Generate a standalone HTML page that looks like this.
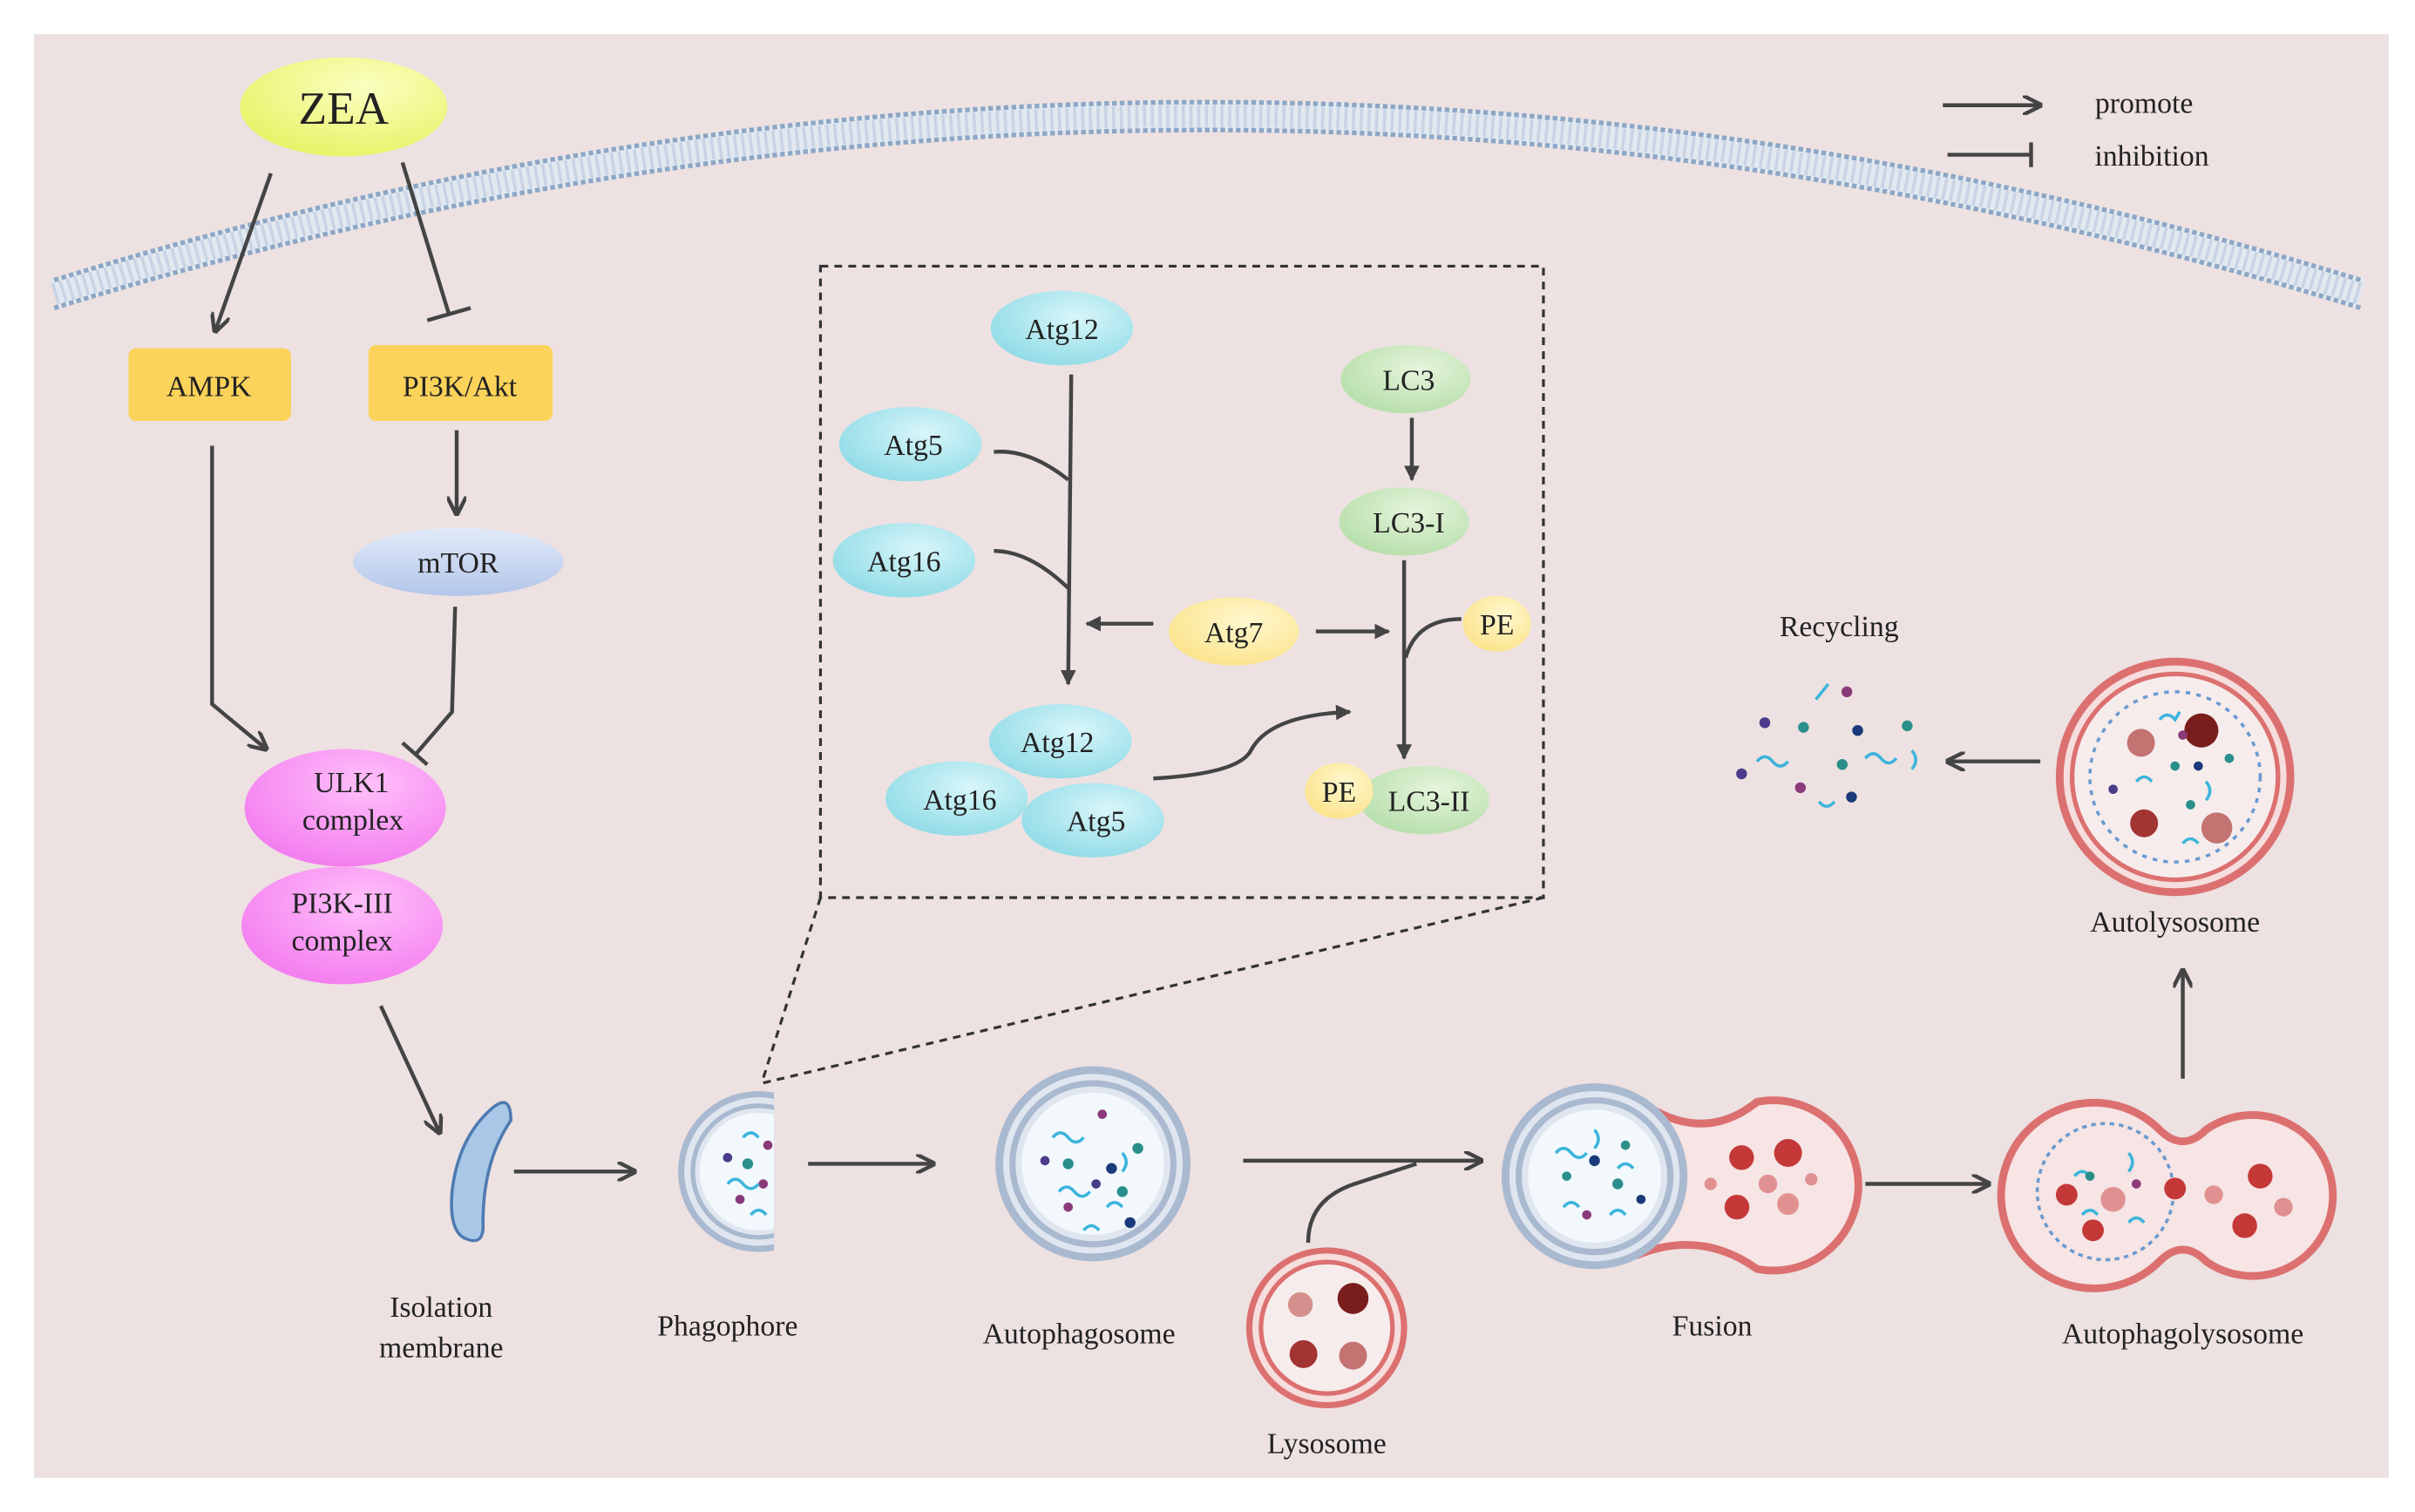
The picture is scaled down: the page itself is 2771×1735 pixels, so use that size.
<!DOCTYPE html>
<html><head><meta charset="utf-8"><style>html,body{margin:0;padding:0;background:#fff}svg{display:block}text{font-family:"Liberation Serif",serif;fill:#222;text-anchor:middle}</style></head><body>
<svg width="2771" height="1735" viewBox="0 0 1560 977" preserveAspectRatio="none" xmlns="http://www.w3.org/2000/svg">
<defs>
<marker id="a" viewBox="0 0 10 10" refX="9" refY="5" markerWidth="5" markerHeight="5" orient="auto"><path d="M0,0 L10,5 L0,10" fill="none" stroke="#444" stroke-width="2"/></marker>
<marker id="b" viewBox="0 0 10 10" refX="9" refY="5" markerWidth="4" markerHeight="4" orient="auto"><path d="M0,0 L10,5 L0,10 Z" fill="#444"/></marker>
<radialGradient id="cy" cx="0.6" cy="0.35" r="0.7"><stop offset="0" stop-color="#d8f6fa"/><stop offset="1" stop-color="#8fdbe6"/></radialGradient>
<radialGradient id="gr" cx="0.6" cy="0.35" r="0.7"><stop offset="0" stop-color="#e6f5dc"/><stop offset="1" stop-color="#b6deaa"/></radialGradient>
<radialGradient id="ye" cx="0.6" cy="0.35" r="0.7"><stop offset="0" stop-color="#fff8d0"/><stop offset="1" stop-color="#fbe38a"/></radialGradient>
<radialGradient id="pk" cx="0.6" cy="0.3" r="0.7"><stop offset="0" stop-color="#ffc0fa"/><stop offset="1" stop-color="#f47ff0"/></radialGradient>
<radialGradient id="zea" cx="0.6" cy="0.3" r="0.7"><stop offset="0" stop-color="#fbffc0"/><stop offset="1" stop-color="#e8f36a"/></radialGradient>
<linearGradient id="mt" x1="0" y1="0" x2="0" y2="1"><stop offset="0" stop-color="#e2eaf8"/><stop offset="1" stop-color="#b3c6ea"/></linearGradient>
<clipPath id="half"><rect x="400" y="680" width="100" height="160"/></clipPath>
</defs>
<rect x="0" y="0" width="1560" height="977" fill="#fff"/>
<rect x="22" y="22" width="1521" height="933" fill="#ede1e1"/>
<!-- membrane -->
<path d="M35,190 Q780,-40 1525,190" fill="none" stroke="#e2e8f0" stroke-width="20"/>
<path d="M35,190 Q780,-40 1525,190" fill="none" stroke="#c8d4e4" stroke-width="14" stroke-dasharray="2 3"/>
<path d="M35,181 Q780,-49 1525,181" fill="none" stroke="#8ea6c4" stroke-width="3" stroke-dasharray="3 2"/>
<path d="M35,199 Q780,-31 1525,199" fill="none" stroke="#8ea6c4" stroke-width="3" stroke-dasharray="3 2"/>
<!-- legend -->
<line x1="1255" y1="68" x2="1318" y2="68" stroke="#444" stroke-width="2.5" marker-end="url(#a)"/>
<text x="1385" y="73" font-size="19">promote</text>
<line x1="1258" y1="100" x2="1312" y2="100" stroke="#444" stroke-width="2.5"/><line x1="1312" y1="92" x2="1312" y2="108" stroke="#444" stroke-width="2.5"/>
<text x="1390" y="107" font-size="19">inhibition</text>
<!-- left pathway -->
<ellipse cx="222" cy="69" rx="67" ry="32" fill="url(#zea)"/>
<text x="222" y="80" font-size="30">ZEA</text>
<line x1="175" y1="112" x2="139" y2="214" stroke="#444" stroke-width="2.5" marker-end="url(#a)"/>
<line x1="260" y1="105" x2="290" y2="203" stroke="#444" stroke-width="2.5"/><line x1="276" y1="207" x2="304" y2="199" stroke="#444" stroke-width="2.5"/>
<rect x="83" y="225" width="105" height="47" rx="5" fill="#fcd35a"/>
<text x="135" y="256" font-size="19">AMPK</text>
<rect x="238" y="223" width="119" height="49" rx="5" fill="#fcd35a"/>
<text x="297" y="256" font-size="19">PI3K/Akt</text>
<line x1="295" y1="278" x2="295" y2="332" stroke="#444" stroke-width="2.5" marker-end="url(#a)"/>
<ellipse cx="296" cy="363" rx="68" ry="22" fill="url(#mt)"/>
<text x="296" y="370" font-size="19">mTOR</text>
<polyline points="137,288 137,455 172,484" fill="none" stroke="#444" stroke-width="2.5" marker-end="url(#a)"/>
<polyline points="294,392 292,460 268,488" fill="none" stroke="#444" stroke-width="2.5"/><line x1="260" y1="480" x2="276" y2="494" stroke="#444" stroke-width="2.5"/>
<ellipse cx="223" cy="522" rx="65" ry="38" fill="url(#pk)"/>
<text x="227" y="512" font-size="19">ULK1</text><text x="228" y="536" font-size="19">complex</text>
<ellipse cx="221" cy="598" rx="65" ry="38" fill="url(#pk)"/>
<text x="221" y="590" font-size="19">PI3K-III</text><text x="221" y="614" font-size="19">complex</text>
<line x1="246" y1="650" x2="284" y2="732" stroke="#444" stroke-width="2.5" marker-end="url(#a)"/>
<!-- isolation membrane -->
<path d="M318,716 Q330,706 330,724 Q312,750 312,790 Q313,806 300,800 Q290,795 292,770 Q296,735 318,716 Z" fill="#a9c8e8" stroke="#4d7bb0" stroke-width="2"/>
<text x="285" y="851" font-size="19">Isolation</text><text x="285" y="877" font-size="19">membrane</text>
<line x1="332" y1="757" x2="410" y2="757" stroke="#444" stroke-width="2.5" marker-end="url(#a)"/>
<!-- phagophore -->
<g clip-path="url(#half)">
<circle cx="490" cy="757" r="52" fill="#a9b9d0"/><circle cx="490" cy="757" r="48" fill="#dfe6f0"/><circle cx="490" cy="757" r="44" fill="#a9b9d0"/><circle cx="490" cy="757" r="41" fill="#dfe6f0"/><circle cx="490" cy="757" r="38" fill="#f2f8fc"/>
<circle cx="470" cy="748" r="3" fill="#4a3c8a"/><circle cx="483" cy="752" r="3.5" fill="#2a8f8a"/><circle cx="493" cy="765" r="3" fill="#8a3a7a"/><circle cx="478" cy="775" r="3" fill="#8a3a7a"/><circle cx="496" cy="740" r="3" fill="#8a3a7a"/>
<path d="M470,765 q5,-6 10,0 t10,0" fill="none" stroke="#3cb4dc" stroke-width="2"/><path d="M480,735 q5,-6 10,0" fill="none" stroke="#3cb4dc" stroke-width="2"/><path d="M485,785 q5,-6 10,0" fill="none" stroke="#3cb4dc" stroke-width="2"/>
</g>
<text x="470" y="863" font-size="19">Phagophore</text>
<line x1="522" y1="752" x2="603" y2="752" stroke="#444" stroke-width="2.5" marker-end="url(#a)"/>
<!-- autophagosome -->
<circle cx="706" cy="752" r="63" fill="#a9b9d0"/><circle cx="706" cy="752" r="58" fill="#dfe6f0"/><circle cx="706" cy="752" r="54" fill="#a9b9d0"/><circle cx="706" cy="752" r="50" fill="#dfe6f0"/><circle cx="706" cy="752" r="46" fill="#f2f8fc"/>
<g fill="none" stroke="#3cb4dc" stroke-width="2"><path d="M680,735 q5,-6 10,0 t10,0"/><path d="M684,770 q5,-6 10,0 t10,0"/><path d="M715,780 q5,-6 10,0"/><path d="M725,745 q5,6 0,12"/><path d="M700,795 q5,-6 10,0"/></g>
<g><circle cx="675" cy="750" r="3" fill="#4a3c8a"/><circle cx="690" cy="752" r="3.5" fill="#2a8f8a"/><circle cx="712" cy="720" r="3" fill="#8a3a7a"/><circle cx="718" cy="755" r="3.5" fill="#1a3a7a"/><circle cx="735" cy="742" r="3.5" fill="#2a8f8a"/><circle cx="708" cy="765" r="3" fill="#4a3c8a"/><circle cx="725" cy="770" r="3.5" fill="#2a8f8a"/><circle cx="730" cy="790" r="3.5" fill="#1a3a7a"/><circle cx="690" cy="780" r="3" fill="#8a3a7a"/></g>
<text x="697" y="868" font-size="19">Autophagosome</text>
<line x1="803" y1="750" x2="957" y2="750" stroke="#444" stroke-width="2.5" marker-end="url(#a)"/>
<path d="M845,803 Q845,775 875,765 L915,752" fill="none" stroke="#444" stroke-width="2.5"/>
<!-- lysosome -->
<circle cx="857" cy="858" r="52" fill="#dc7070"/><circle cx="857" cy="858" r="48" fill="#f6dede"/><circle cx="857" cy="858" r="44" fill="#dc7070"/><circle cx="857" cy="858" r="41" fill="#f7ecec"/>
<circle cx="840" cy="843" r="8" fill="#d4908c"/><circle cx="874" cy="839" r="10" fill="#7a1d1d"/><circle cx="842" cy="875" r="9" fill="#a33434"/><circle cx="874" cy="876" r="9" fill="#c47272"/>
<text x="857" y="939" font-size="19">Lysosome</text>
<!-- fusion -->
<path d="M1060,712 Q1100,740 1135,712 A55,55 0 1,1 1135,820 Q1100,795 1060,810 Z" fill="#f7e4e4" stroke="#dc7070" stroke-width="5"/>
<circle cx="1030" cy="760" r="60" fill="#a9b9d0"/><circle cx="1030" cy="760" r="55" fill="#dfe6f0"/><circle cx="1030" cy="760" r="51" fill="#a9b9d0"/><circle cx="1030" cy="760" r="47" fill="#dfe6f0"/><circle cx="1030" cy="760" r="43" fill="#f2f8fc"/>
<g fill="none" stroke="#3cb4dc" stroke-width="2"><path d="M1005,745 q5,-6 10,0 t10,0"/><path d="M1010,780 q5,-6 10,0"/><path d="M1040,785 q5,-6 10,0"/><path d="M1030,730 q5,6 0,12"/><path d="M1045,755 q5,-6 10,0"/></g>
<circle cx="1012" cy="760" r="3" fill="#2a8f8a"/><circle cx="1030" cy="750" r="3.5" fill="#1a3a7a"/><circle cx="1045" cy="765" r="3.5" fill="#2a8f8a"/><circle cx="1025" cy="785" r="3" fill="#8a3a7a"/><circle cx="1050" cy="740" r="3" fill="#2a8f8a"/><circle cx="1060" cy="775" r="3" fill="#1a3a7a"/>
<circle cx="1125" cy="748" r="8" fill="#c43838"/><circle cx="1155" cy="745" r="9" fill="#c43838"/><circle cx="1142" cy="765" r="6" fill="#e09090"/><circle cx="1122" cy="780" r="8" fill="#c43838"/><circle cx="1155" cy="778" r="7" fill="#e09090"/><circle cx="1105" cy="765" r="4" fill="#e09090"/><circle cx="1170" cy="762" r="4" fill="#e09090"/>
<text x="1106" y="863" font-size="19">Fusion</text>
<line x1="1205" y1="765" x2="1285" y2="765" stroke="#444" stroke-width="2.5" marker-end="url(#a)"/>
<!-- autophagolysosome -->
<path d="M1395,730 Q1410,745 1425,730 A52,52 0 1,1 1425,815 Q1410,800 1395,815 A60,60 0 1,1 1395,730 Z" fill="#f7e4e4" stroke="#dc7070" stroke-width="5"/>
<circle cx="1360" cy="770" r="44" fill="none" stroke="#6a9ad0" stroke-width="2" stroke-dasharray="3 3"/>
<g fill="none" stroke="#3cb4dc" stroke-width="2"><path d="M1340,760 q5,-6 10,0"/><path d="M1345,785 q5,-6 10,0"/><path d="M1375,745 q5,6 0,12"/><path d="M1375,790 q5,-6 10,0"/></g>
<circle cx="1335" cy="772" r="7" fill="#c43838"/><circle cx="1365" cy="775" r="8" fill="#e09090"/><circle cx="1352" cy="795" r="7" fill="#c43838"/><circle cx="1350" cy="760" r="3" fill="#2a8f8a"/><circle cx="1380" cy="765" r="3" fill="#8a3a7a"/>
<circle cx="1405" cy="768" r="7" fill="#c43838"/><circle cx="1430" cy="772" r="6" fill="#e09090"/><circle cx="1460" cy="760" r="8" fill="#c43838"/><circle cx="1450" cy="792" r="8" fill="#c43838"/><circle cx="1475" cy="780" r="6" fill="#e09090"/>
<text x="1410" y="868" font-size="19">Autophagolysosome</text>
<line x1="1410" y1="697" x2="1410" y2="627" stroke="#444" stroke-width="2.5" marker-end="url(#a)"/>
<!-- autolysosome -->
<circle cx="1405" cy="502" r="77" fill="#dc7070"/><circle cx="1405" cy="502" r="72" fill="#f6dede"/><circle cx="1405" cy="502" r="68" fill="#dc7070"/><circle cx="1405" cy="502" r="65" fill="#f7ecec"/>
<circle cx="1405" cy="502" r="55" fill="none" stroke="#6a9ad0" stroke-width="2" stroke-dasharray="3 4"/>
<circle cx="1422" cy="472" r="11" fill="#7a1d1d"/><circle cx="1383" cy="480" r="9" fill="#c47272"/><circle cx="1385" cy="532" r="9" fill="#a33434"/><circle cx="1432" cy="535" r="10" fill="#c47272"/>
<g fill="none" stroke="#3cb4dc" stroke-width="2"><path d="M1395,465 q5,-6 10,0 l3,-5"/><path d="M1380,505 q5,-6 10,0"/><path d="M1410,545 q5,-6 10,0"/><path d="M1425,505 q5,6 0,12"/></g>
<circle cx="1405" cy="495" r="3" fill="#2a8f8a"/><circle cx="1420" cy="495" r="3" fill="#1a3a7a"/><circle cx="1415" cy="520" r="3" fill="#2a8f8a"/><circle cx="1440" cy="490" r="3" fill="#2a8f8a"/><circle cx="1365" cy="510" r="3" fill="#4a3c8a"/><circle cx="1410" cy="475" r="3" fill="#8a3a7a"/>
<text x="1405" y="602" font-size="19">Autolysosome</text>
<line x1="1318" y1="492" x2="1258" y2="492" stroke="#444" stroke-width="2.5" marker-end="url(#a)"/>
<!-- recycling -->
<text x="1188" y="411" font-size="19">Recycling</text>
<g fill="none" stroke="#3cb4dc" stroke-width="2"><path d="M1173,452 l8,-10"/><path d="M1135,492 q5,-6 10,0 t10,0"/><path d="M1205,490 q5,-6 10,0 t10,0"/><path d="M1235,485 q5,6 0,12"/><path d="M1175,518 q5,6 10,0"/></g>
<circle cx="1193" cy="447" r="3.5" fill="#8a3a7a"/><circle cx="1140" cy="467" r="3.5" fill="#4a3c8a"/><circle cx="1165" cy="470" r="3.5" fill="#2a8f8a"/><circle cx="1200" cy="472" r="3.5" fill="#1a3a7a"/><circle cx="1232" cy="469" r="3.5" fill="#2a8f8a"/><circle cx="1190" cy="494" r="3.5" fill="#2a8f8a"/><circle cx="1125" cy="500" r="3.5" fill="#4a3c8a"/><circle cx="1163" cy="509" r="3.5" fill="#8a3a7a"/><circle cx="1196" cy="515" r="3.5" fill="#1a3a7a"/>
<!-- dashed box -->
<rect x="530" y="172" width="467" height="408" fill="none" stroke="#333" stroke-width="1.8" stroke-dasharray="5 4"/>
<line x1="530" y1="580" x2="492" y2="700" stroke="#333" stroke-width="1.8" stroke-dasharray="5 4"/>
<line x1="997" y1="580" x2="492" y2="700" stroke="#333" stroke-width="1.8" stroke-dasharray="5 4"/>
<ellipse cx="686" cy="212" rx="46" ry="24" fill="url(#cy)"/><text x="686" y="219" font-size="19">Atg12</text>
<ellipse cx="588" cy="287" rx="46" ry="24" fill="url(#cy)"/><text x="590" y="294" font-size="19">Atg5</text>
<ellipse cx="584" cy="362" rx="46" ry="24" fill="url(#cy)"/><text x="584" y="369" font-size="19">Atg16</text>
<line x1="692" y1="242" x2="690" y2="442" stroke="#444" stroke-width="2.5" marker-end="url(#b)"/>
<path d="M642,292 Q665,290 690,310" fill="none" stroke="#444" stroke-width="2.5"/>
<path d="M642,356 Q665,356 690,380" fill="none" stroke="#444" stroke-width="2.5"/>
<ellipse cx="797" cy="408" rx="42" ry="22" fill="url(#ye)"/><text x="797" y="415" font-size="19">Atg7</text>
<line x1="745" y1="403" x2="702" y2="403" stroke="#444" stroke-width="2.5" marker-end="url(#b)"/>
<line x1="850" y1="408" x2="897" y2="408" stroke="#444" stroke-width="2.5" marker-end="url(#b)"/>
<ellipse cx="685" cy="479" rx="46" ry="24" fill="url(#cy)"/><text x="683" y="486" font-size="19">Atg12</text>
<ellipse cx="618" cy="516" rx="46" ry="24" fill="url(#cy)"/><text x="620" y="523" font-size="19">Atg16</text>
<ellipse cx="706" cy="530" rx="46" ry="24" fill="url(#cy)"/><text x="708" y="537" font-size="19">Atg5</text>
<path d="M745,503 Q800,500 808,485 Q820,462 872,460" fill="none" stroke="#444" stroke-width="2.5" marker-end="url(#b)"/>
<ellipse cx="908" cy="245" rx="42" ry="22" fill="url(#gr)"/><text x="910" y="252" font-size="19">LC3</text>
<line x1="912" y1="270" x2="912" y2="310" stroke="#444" stroke-width="2.5" marker-end="url(#b)"/>
<ellipse cx="907" cy="337" rx="42" ry="22" fill="url(#gr)"/><text x="910" y="344" font-size="19">LC3-I</text>
<line x1="907" y1="362" x2="907" y2="490" stroke="#444" stroke-width="2.5" marker-end="url(#b)"/>
<ellipse cx="967" cy="403" rx="22" ry="18" fill="url(#ye)"/><text x="967" y="410" font-size="19">PE</text>
<path d="M944,400 Q915,400 908,425" fill="none" stroke="#444" stroke-width="2.5"/>
<ellipse cx="920" cy="517" rx="42" ry="22" fill="url(#gr)"/>
<ellipse cx="865" cy="511" rx="22" ry="18" fill="url(#ye)"/><text x="865" y="518" font-size="19">PE</text>
<text x="923" y="524" font-size="19">LC3-II</text>
</svg>
</body></html>
